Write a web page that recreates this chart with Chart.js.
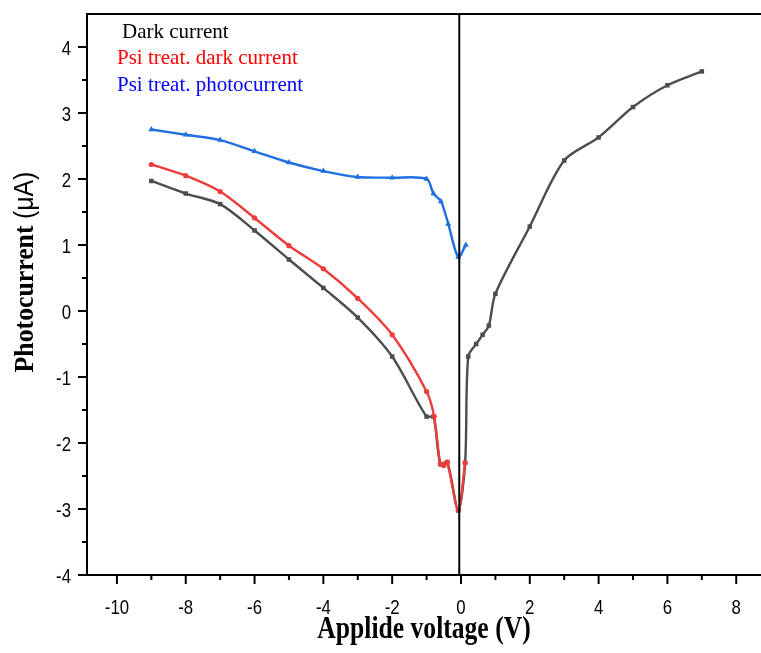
<!DOCTYPE html>
<html>
<head>
<meta charset="utf-8">
<script src="https://cdn.jsdelivr.net/npm/chart.js@4/dist/chart.umd.min.js"></script>
<style>
    html, body { margin: 0; padding: 0; background: #fff; overflow: hidden; }
    canvas { display: block; }
</style>
</head>
<body>
<canvas id="ivChart" width="761" height="653"></canvas>
<script>
// I-V sweeps: voltage (V) and current (uA)
const darkVoltage = [-9, -8, -7, -6, -5, -4, -3, -2, -1, -0.8, -0.6, -0.4, -0.08, 0.12, 0.21, 0.44, 0.63, 0.81, 1, 2, 3, 4, 5, 6, 7];
const darkCurrent = [1.97, 1.78, 1.62, 1.22, 0.78, 0.35, -0.1, -0.69, -1.6, -1.6, -2.32, -2.29, -3.02, -2.3, -0.69, -0.5, -0.36, -0.22, 0.26, 1.28, 2.28, 2.63, 3.09, 3.42, 3.63];

const psiDarkVoltage = [-9, -8, -7, -6, -5, -4, -3, -2, -1, -0.78, -0.6, -0.5, -0.4, -0.08, 0.12];
const psiDarkCurrent = [2.22, 2.05, 1.81, 1.41, 0.99, 0.64, 0.19, -0.36, -1.22, -1.6, -2.32, -2.34, -2.29, -3.02, -2.3];

const psiPhotoVoltage = [-9, -8, -7, -6, -5, -4, -3, -2, -1, -0.8, -0.58, -0.37, -0.08, 0.14];
const psiPhotoCurrent = [2.75, 2.67, 2.59, 2.42, 2.25, 2.12, 2.03, 2.02, 2.0, 1.78, 1.66, 1.32, 0.82, 1.0];

// vertical marker at 0 V
const zeroLineVoltage = [-0.05, -0.05];
const zeroLineCurrent = [-4, 4.5];

const seriesNames = ['Dark current', 'Psi treat. dark current', 'Psi treat. photocurrent'];

// axis ticks
const xMajorTicks = [-10, -8, -6, -4, -2, 0, 2, 4, 6, 8];
const xMinorTicks = [-9, -7, -5, -3, -1, 1, 3, 5, 7];
const yMajorTicks = [-4, -3, -2, -1, 0, 1, 2, 3, 4];
const yMinorTicks = [-3.5, -2.5, -1.5, -0.5, 0.5, 1.5, 2.5, 3.5];

const SERIF = "'Liberation Serif', 'Times New Roman', serif";
const SANS = "'Liberation Sans', Arial, sans-serif";

const toPoints = (xs, ys) => xs.map((v, i) => ({ x: v, y: ys[i] }));

// text squeezed horizontally (narrow glyphs)
function narrowText(ctx, text, x, y, sx, align) {
    ctx.save();
    ctx.translate(x, y);
    ctx.scale(sx, 1);
    ctx.textAlign = align;
    ctx.fillText(text, 0, 0);
    ctx.restore();
}

const decorations = {
    id: 'decorations',
    afterDraw(chart) {
        const { ctx, chartArea: a } = chart;
        const xs = chart.scales.x, ys = chart.scales.y;
        ctx.save();
        ctx.strokeStyle = '#000';
        ctx.fillStyle = '#000';
        ctx.lineWidth = 2;

        // top frame
        ctx.beginPath();
        ctx.moveTo(a.left - 1, a.top);
        ctx.lineTo(a.right, a.top);
        ctx.stroke();

        // tick marks
        ctx.beginPath();
        xMajorTicks.forEach(v => { const px = xs.getPixelForValue(v); ctx.moveTo(px, a.bottom); ctx.lineTo(px, a.bottom + 9); });
        xMinorTicks.forEach(v => { const px = xs.getPixelForValue(v); ctx.moveTo(px, a.bottom); ctx.lineTo(px, a.bottom + 5); });
        yMajorTicks.forEach(v => { const py = ys.getPixelForValue(v); ctx.moveTo(a.left, py); ctx.lineTo(a.left - 9, py); });
        yMinorTicks.forEach(v => { const py = ys.getPixelForValue(v); ctx.moveTo(a.left, py); ctx.lineTo(a.left - 5, py); });
        ctx.stroke();

        // tick labels
        ctx.font = '21px ' + SANS;
        ctx.textBaseline = 'alphabetic';
        xMajorTicks.forEach(v => narrowText(ctx, String(v), xs.getPixelForValue(v), a.bottom + 39, 0.8, 'center'));
        yMajorTicks.forEach(v => narrowText(ctx, String(v), a.left - 16, ys.getPixelForValue(v) + 7.5, 0.8, 'right'));

        // x title
        ctx.font = 'bold 32px ' + SERIF;
        narrowText(ctx, 'Applide voltage (V)', (a.left + a.right) / 2, 638, 0.8, 'center');

        // y title: bold serif word + regular unit
        ctx.save();
        ctx.translate(33, 272);
        ctx.rotate(-Math.PI / 2);
        ctx.scale(0.92, 1);
        ctx.textAlign = 'left';
        ctx.font = 'bold 28px ' + SERIF;
        const w1 = ctx.measureText('Photocurrent ').width;
        ctx.font = '27px ' + SANS;
        const w2 = ctx.measureText('(\u03bcA)').width;
        const start = -(w1 + w2) / 2;
        ctx.font = 'bold 28px ' + SERIF;
        ctx.fillText('Photocurrent ', start, 0);
        ctx.font = '27px ' + SANS;
        ctx.fillText('(\u03bcA)', start + w1, 0);
        ctx.restore();

        // legend (text only)
        ctx.font = '21px ' + SERIF;
        ctx.textAlign = 'left';
        ctx.fillStyle = '#000000';
        ctx.fillText(seriesNames[0], 122, 38);
        ctx.fillStyle = '#ff0000';
        ctx.fillText(seriesNames[1], 117, 64);
        ctx.fillStyle = '#0000ff';
        ctx.fillText(seriesNames[2], 117, 91);

        ctx.restore();
    }
};

const lineStyle = {
    showLine: true,
    borderWidth: 2.4,
    tension: 0.3,
    pointBorderWidth: 0
};

new Chart(document.getElementById('ivChart'), {
    type: 'scatter',
    data: {
        datasets: [
            {
                label: '0 V',
                data: toPoints(zeroLineVoltage, zeroLineCurrent),
                showLine: true,
                borderColor: '#000',
                borderWidth: 2,
                pointRadius: 0,
                order: 0
            },
            {
                ...lineStyle,
                label: seriesNames[2],
                data: toPoints(psiPhotoVoltage, psiPhotoCurrent),
                borderColor: '#1f6fe0',
                backgroundColor: '#1f6fe0',
                pointStyle: 'triangle',
                pointRadius: 3.5,
                order: 1
            },
            {
                ...lineStyle,
                label: seriesNames[1],
                data: toPoints(psiDarkVoltage, psiDarkCurrent),
                borderColor: '#ee3b3b',
                backgroundColor: '#ee3b3b',
                pointStyle: 'circle',
                pointRadius: 2.6,
                order: 2
            },
            {
                ...lineStyle,
                label: seriesNames[0],
                data: toPoints(darkVoltage, darkCurrent),
                borderColor: '#4d4d4d',
                backgroundColor: '#4d4d4d',
                pointStyle: 'rect',
                pointRadius: 3.2,
                order: 3
            }
        ]
    },
    options: {
        responsive: false,
        animation: false,
        events: [],
        layout: { autoPadding: false, padding: { top: 14, left: 0, right: 0, bottom: 0 } },
        plugins: {
            legend: { display: false },
            tooltip: { enabled: false }
        },
        scales: {
            x: {
                type: 'linear',
                min: -10.87,
                max: 8.72,
                grid: { display: false },
                ticks: { display: false },
                border: { display: true, color: '#000', width: 2 },
                afterFit(scale) { scale.height = 78; }
            },
            y: {
                type: 'linear',
                min: -4,
                max: 4.5,
                grid: { display: false },
                ticks: { display: false },
                border: { display: true, color: '#000', width: 2 },
                afterFit(scale) { scale.width = 87; }
            }
        }
    },
    plugins: [decorations]
});
</script>
</body>
</html>
